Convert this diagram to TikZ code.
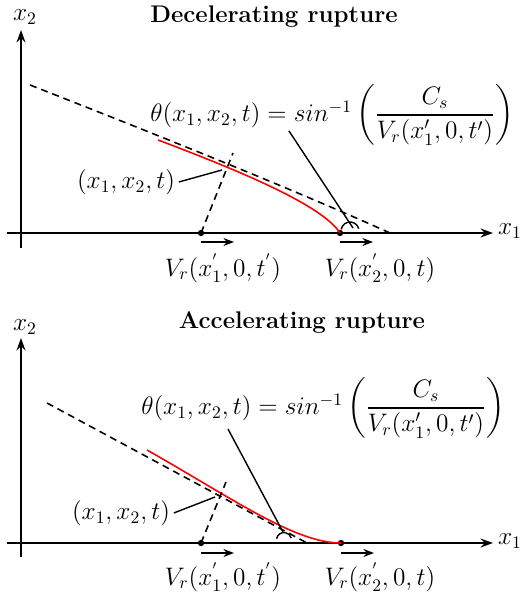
\documentclass[tikz,border=0pt]{standalone}
\usepackage{amsmath}
\usetikzlibrary{arrows.meta}
\begin{document}
\begin{tikzpicture}[x=0.02cm,y=-0.02cm,
 axis/.style={line width=1.3pt,-{Stealth[length=7pt,width=5pt]}},
 dsh/.style={line width=0.9pt,dash pattern=on 4pt off 2.8pt},
 front/.style={red,line width=0.9pt},
 lead/.style={line width=0.8pt},
 vel/.style={line width=1.2pt,-{Stealth[length=6pt,width=4.5pt]}},
 lbl/.style={font=\fontsize{14.8}{17}\selectfont, inner sep=0pt},
 form/.style={font=\fontsize{14.1}{17}\selectfont, inner sep=0pt, anchor=east},
 ttl/.style={font=\fontsize{13.7}{16}\selectfont\bfseries, inner sep=0pt},
 dot/.style={circle,fill,inner sep=0pt,minimum size=3.6pt}]
\useasboundingbox (0,0) rectangle (521,594);
% ---------- top panel ----------
\coordinate (yb1) at (21,248); \coordinate (yt1) at (21,30);
\coordinate (xl1) at (7,233);  \coordinate (xr1) at (493,233);
\draw[axis] (yb1) -- (yt1);
\draw[axis] (xl1) -- (xr1);
\node[lbl] (x2a) at (25,17) {$x_2$};
\node[lbl] (x1a) at (510,231) {$x_1$};
\node[ttl] (t1) at (274,17) {Decelerating rupture};
\coordinate (ds1) at (30,85); \coordinate (de1) at (390,233);
\draw[dsh] (ds1) .. controls (150,132) and (290,188) .. (de1);
\coordinate (rs1) at (158,140);
\node[dot] (pa1) at (201,233) {};
\node[dot] (pb1) at (340,233) {};
\draw[front] (rs1) .. controls (240,171) and (322,205) .. (pb1.center);
\coordinate (re1) at (233,153);
\draw[dsh] (pa1.center) -- (re1);
\coordinate (va1s) at (201,242); \coordinate (va1e) at (234,242);
\coordinate (vb1s) at (340,242); \coordinate (vb1e) at (373,242);
\draw[vel] (va1s) -- (va1e);
\draw[vel] (vb1s) -- (vb1e);
\node[lbl] (la1) at (223,268) {$V_r(x^{'}_1,0,t^{'})$};
\node[lbl] (lb1) at (380,268) {$V_r(x^{'}_2,0,t)$};
\node[lbl] (xx1) at (126,182) {$(x_1,x_2,t)$};
\coordinate (xc1) at (222,170);
\draw[lead] ([xshift=2pt]xx1.east) -- (xc1);
\node[form] (th1) at (514,115) {$\theta(x_1,x_2,t) = sin^{-1}\left(\dfrac{C_s}{V_r(x_1',0,t')}\right)$};
\coordinate (ts1) at (289,131); \coordinate (te1) at (353,228);
\draw[lead] (ts1) -- (te1);
\draw[lead] (350,231) ++(170:0.18cm) arc[start angle=170,end angle=15,radius=0.18cm];
% ---------- bottom panel ----------
\coordinate (yb2) at (21,557); \coordinate (yt2) at (21,338);
\coordinate (xl2) at (7,543);  \coordinate (xr2) at (493,543);
\draw[axis] (yb2) -- (yt2);
\draw[axis] (xl2) -- (xr2);
\node[lbl] (x2b) at (25,327) {$x_2$};
\node[lbl] (x1b) at (510,541) {$x_1$};
\node[ttl] (t2) at (302,322) {Accelerating rupture};
\coordinate (ds2) at (47,403); \coordinate (de2) at (307,543);
\draw[dsh] (ds2) -- (de2);
\coordinate (rs2) at (147,450);
\node[dot] (pa2) at (201,543) {};
\node[dot] (pb2) at (341,543) {};
\draw[front] (rs2) .. controls (235,500) and (295,543) .. (pb2.center);
\coordinate (re2) at (226,482);
\draw[dsh] (pa2.center) -- (re2);
\coordinate (va2s) at (201,553); \coordinate (va2e) at (234,553);
\coordinate (vb2s) at (341,553); \coordinate (vb2e) at (374,553);
\draw[vel] (va2s) -- (va2e);
\draw[vel] (vb2s) -- (vb2e);
\node[lbl] (la2) at (223,577) {$V_r(x^{'}_1,0,t^{'})$};
\node[lbl] (lb2) at (380,577) {$V_r(x^{'}_2,0,t)$};
\node[lbl] (xx2) at (121,513) {$(x_1,x_2,t)$};
\coordinate (xc2) at (215,497);
\draw[lead] ([xshift=2pt]xx2.east) -- (xc2);
\node[form] (th2) at (505,408) {$\theta(x_1,x_2,t) = sin^{-1}\left(\dfrac{C_s}{V_r(x_1',0,t')}\right)$};
\coordinate (ts2) at (228,429); \coordinate (te2) at (283,532);
\draw[lead] (ts2) -- (te2);
\draw[lead] (284,540) ++(170:0.15cm) arc[start angle=170,end angle=15,radius=0.15cm];
\end{tikzpicture}
\end{document}
